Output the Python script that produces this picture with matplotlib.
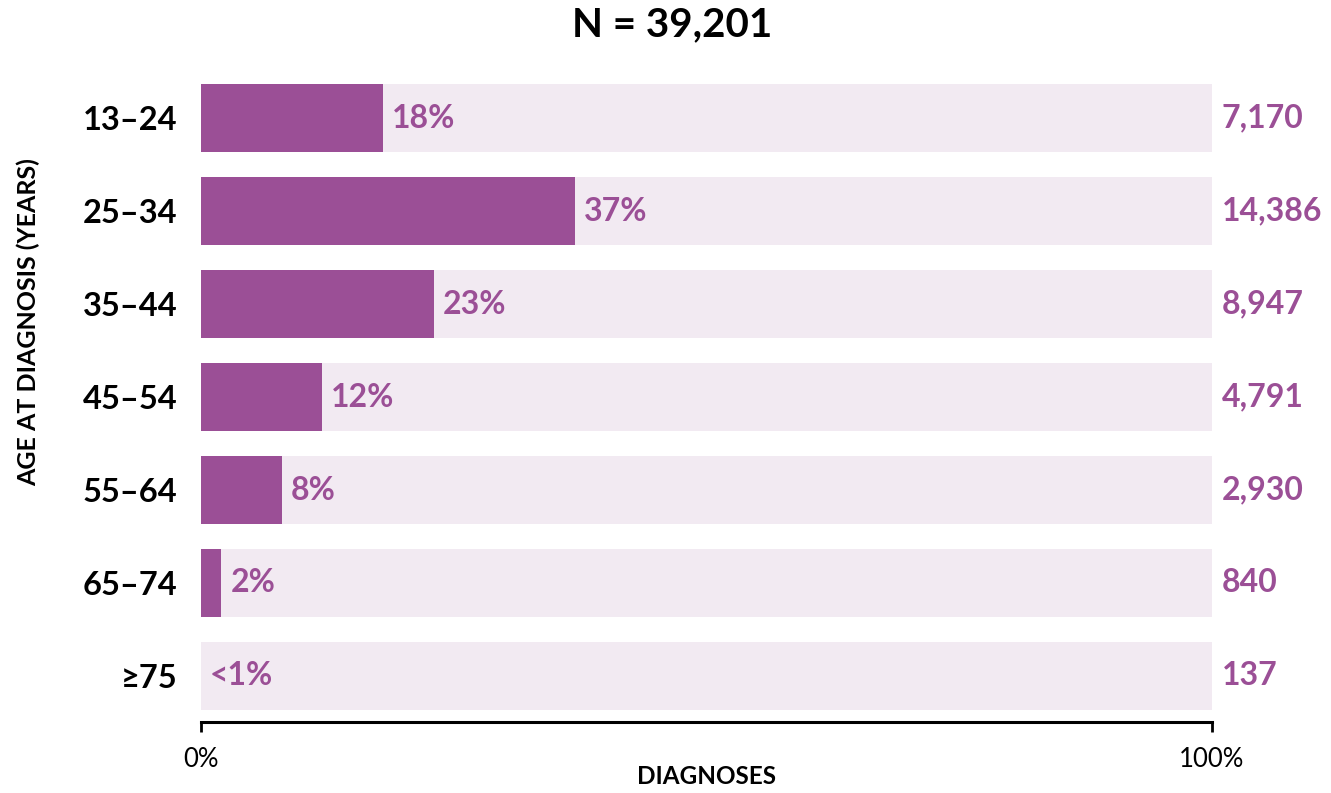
import matplotlib.pyplot as plt

# Data
age_groups = ['13–24', '25–34', '35–44', '45–54', '55–64', '65–74', '≥75']
percents = [18, 37, 23, 12, 8, 2, 0]
pct_labels = ['18%', '37%', '23%', '12%', '8%', '2%', '<1%']
counts = ['7,170', '14,386', '8,947', '4,791', '2,930', '840', '137']
total = '39,201'

dark = '#9B4F96'
light = '#F2EAF2'

plt.rcParams['font.family'] = ['Lato', 'DejaVu Sans']

fig = plt.figure(figsize=(13.31, 7.93), dpi=100)
ax = fig.add_axes([0.151, 0.0895, 0.7596, 0.8203])

y = list(range(len(age_groups)))
ax.barh(y, [100] * len(y), height=0.73, color=light, zorder=1)
ax.barh(y, percents, height=0.73, color=dark, zorder=2)

for i in y:
    ax.text(percents[i] + 0.9, i, pct_labels[i], va='center', ha='left',
            fontsize=23, fontweight='bold', color=dark)
    ax.text(100.95, i, counts[i], va='center', ha='left',
            fontsize=23, fontweight='bold', color=dark)

ax.set_xlim(0, 100)
ax.set_ylim(6.495, -0.5)
ax.set_yticks(y)
ax.set_yticklabels(age_groups, fontsize=23.5, fontweight='bold')
ax.tick_params(axis='y', length=0, pad=17)
ax.set_xticks([0, 100])
ax.set_xticklabels(['0%', '100%'], fontsize=18.5)
ax.tick_params(axis='x', length=7, width=2, pad=11)

for s in ['top', 'right', 'left']:
    ax.spines[s].set_visible(False)
ax.spines['bottom'].set_linewidth(2.2)

ax.set_xlabel('DIAGNOSES', fontsize=17.5, fontweight='bold', labelpad=-5)
fig.text(0.021, 0.594, 'AGE AT DIAGNOSIS (YEARS)', rotation=90, ha='center',
         va='center', fontsize=18, fontweight='bold')
fig.text(0.505, 0.969, 'N = ' + total, ha='center', va='center',
         fontsize=29, fontweight='bold')

fig.savefig('out.png', dpi=100)
